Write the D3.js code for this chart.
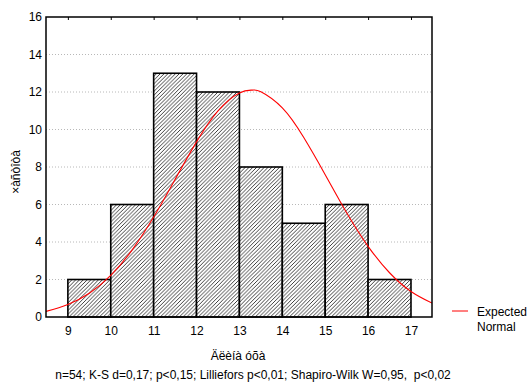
<!DOCTYPE html>
<html>
<head>
<meta charset="utf-8">
<script src="https://cdn.jsdelivr.net/npm/d3@7"></script>
<style>
  body { margin: 0; background: #fff; }
  text { font-family: Arial, "Liberation Sans", sans-serif; }
</style>
</head>
<body>
<div id="chart"></div>
<script>
// histogram bins (lower edge) and counts
const binStart = [9, 10, 11, 12, 13, 14, 15, 16];
const counts = [2, 6, 13, 12, 8, 5, 6, 2];

// expected normal curve
const curveX = [8.49, 9, 9.5, 10, 10.5, 11, 11.5, 12, 12.5, 13, 13.3, 13.5, 14, 14.5, 15, 15.5, 16, 16.5, 17, 17.49];
const curveY = [0.30, 0.67, 1.27, 2.22, 3.58, 5.33, 7.34, 9.34, 10.99, 11.95, 12.1, 12.01, 11.15, 9.57, 7.59, 5.56, 3.77, 2.36, 1.36, 0.74];

const xTicks = [9, 10, 11, 12, 13, 14, 15, 16, 17];
const yTicks = [0, 2, 4, 6, 8, 10, 12, 14, 16];

const margin = { top: 17, bottom: 72, right: 100, left: 46 };
const W = 532, H = 389;
const width = W - margin.left - margin.right;
const height = H - margin.top - margin.bottom;

const svg = d3.select("#chart")
    .append("svg")
    .attr("width", W)
    .attr("height", H);

const hs = 3.8;
const defs = svg.append("defs");
const pat = defs.append("pattern")
    .attr("id", "hatch")
    .attr("patternUnits", "userSpaceOnUse")
    .attr("width", hs).attr("height", hs);
pat.append("rect").attr("width", hs).attr("height", hs).attr("fill", "#fff");
pat.append("path").attr("d", `M-1,1 l2,-2 M0,${hs} l${hs},-${hs} M${hs - 1},${hs + 1} l2,-2`)
    .attr("stroke", "#000").attr("stroke-width", 0.75);

defs.append("clipPath").attr("id", "clip")
    .append("rect").attr("width", width).attr("height", height);

const g = svg.append("g").attr("transform", `translate(${margin.left}, ${margin.top})`);

const x = d3.scaleLinear().domain([8.49, 17.49]).range([0, width]);
const y = d3.scaleLinear().domain([0, 16]).range([height, 0]);

// grid
g.append("g")
    .selectAll("line")
    .data(yTicks.filter(d => d > 0 && d < 16))
    .join("line")
    .attr("x1", 0).attr("x2", width)
    .attr("y1", d => y(d)).attr("y2", d => y(d))
    .attr("stroke", "#b8b8b8")
    .attr("stroke-dasharray", "1,2");

// bars
g.append("g")
    .selectAll("rect")
    .data(binStart)
    .join("rect")
    .attr("x", d => x(d))
    .attr("y", (d, i) => y(counts[i]))
    .attr("width", d => x(d + 1) - x(d))
    .attr("height", (d, i) => height - y(counts[i]))
    .attr("fill", "url(#hatch)")
    .attr("stroke", "#000")
    .attr("stroke-width", 1.6);

// normal curve
const line = d3.line()
    .x(d => x(d[0]))
    .y(d => y(d[1]))
    .curve(d3.curveNatural);

g.append("path")
    .datum(curveX.map((v, i) => [v, curveY[i]]))
    .attr("clip-path", "url(#clip)")
    .attr("fill", "none")
    .attr("stroke", "#ff0000")
    .attr("stroke-width", 1.1)
    .attr("d", line);

// frame
g.append("rect")
    .attr("width", width).attr("height", height)
    .attr("fill", "none")
    .attr("stroke", "#000")
    .attr("stroke-width", 1.5);

// axes
const xAxis = g.append("g")
    .attr("transform", `translate(0, ${height})`)
    .call(d3.axisBottom(x).tickValues(xTicks).tickSize(0).tickPadding(9))
    .call(a => a.select(".domain").remove());
xAxis.selectAll("text").attr("font-size", 12).attr("fill", "#000");

g.append("g")
    .call(d3.axisTop(x).tickValues(xTicks).tickSize(-3).tickFormat(""))
    .call(a => a.select(".domain").remove());

const yAxis = g.append("g")
    .call(d3.axisLeft(y).tickValues(yTicks).tickSize(0).tickPadding(4))
    .call(a => a.select(".domain").remove());
yAxis.selectAll("text").attr("font-size", 12).attr("fill", "#000");

// axis titles
svg.append("text")
    .attr("transform", `translate(20, ${margin.top + height / 2 + 5}) rotate(-90)`)
    .attr("text-anchor", "middle")
    .attr("font-size", 12)
    .text("×àñòîòà");

svg.append("text")
    .attr("x", 238).attr("y", 360)
    .attr("text-anchor", "middle")
    .attr("font-size", 12)
    .text("Äëèíà óõà");

svg.append("text")
    .attr("x", 253).attr("y", 379)
    .attr("text-anchor", "middle")
    .attr("font-size", 12)
    .attr("xml:space", "preserve")
    .text("n=54; K-S d=0,17; p<0,15; Lilliefors p<0,01; Shapiro-Wilk W=0,95,  p<0,02");

// legend
svg.append("line")
    .attr("x1", 452).attr("x2", 468)
    .attr("y1", 311).attr("y2", 311)
    .attr("stroke", "#ff0000");
svg.append("text").attr("x", 477).attr("y", 316).attr("font-size", 12).text("Expected");
svg.append("text").attr("x", 477).attr("y", 331).attr("font-size", 12).text("Normal");
</script>
</body>
</html>
